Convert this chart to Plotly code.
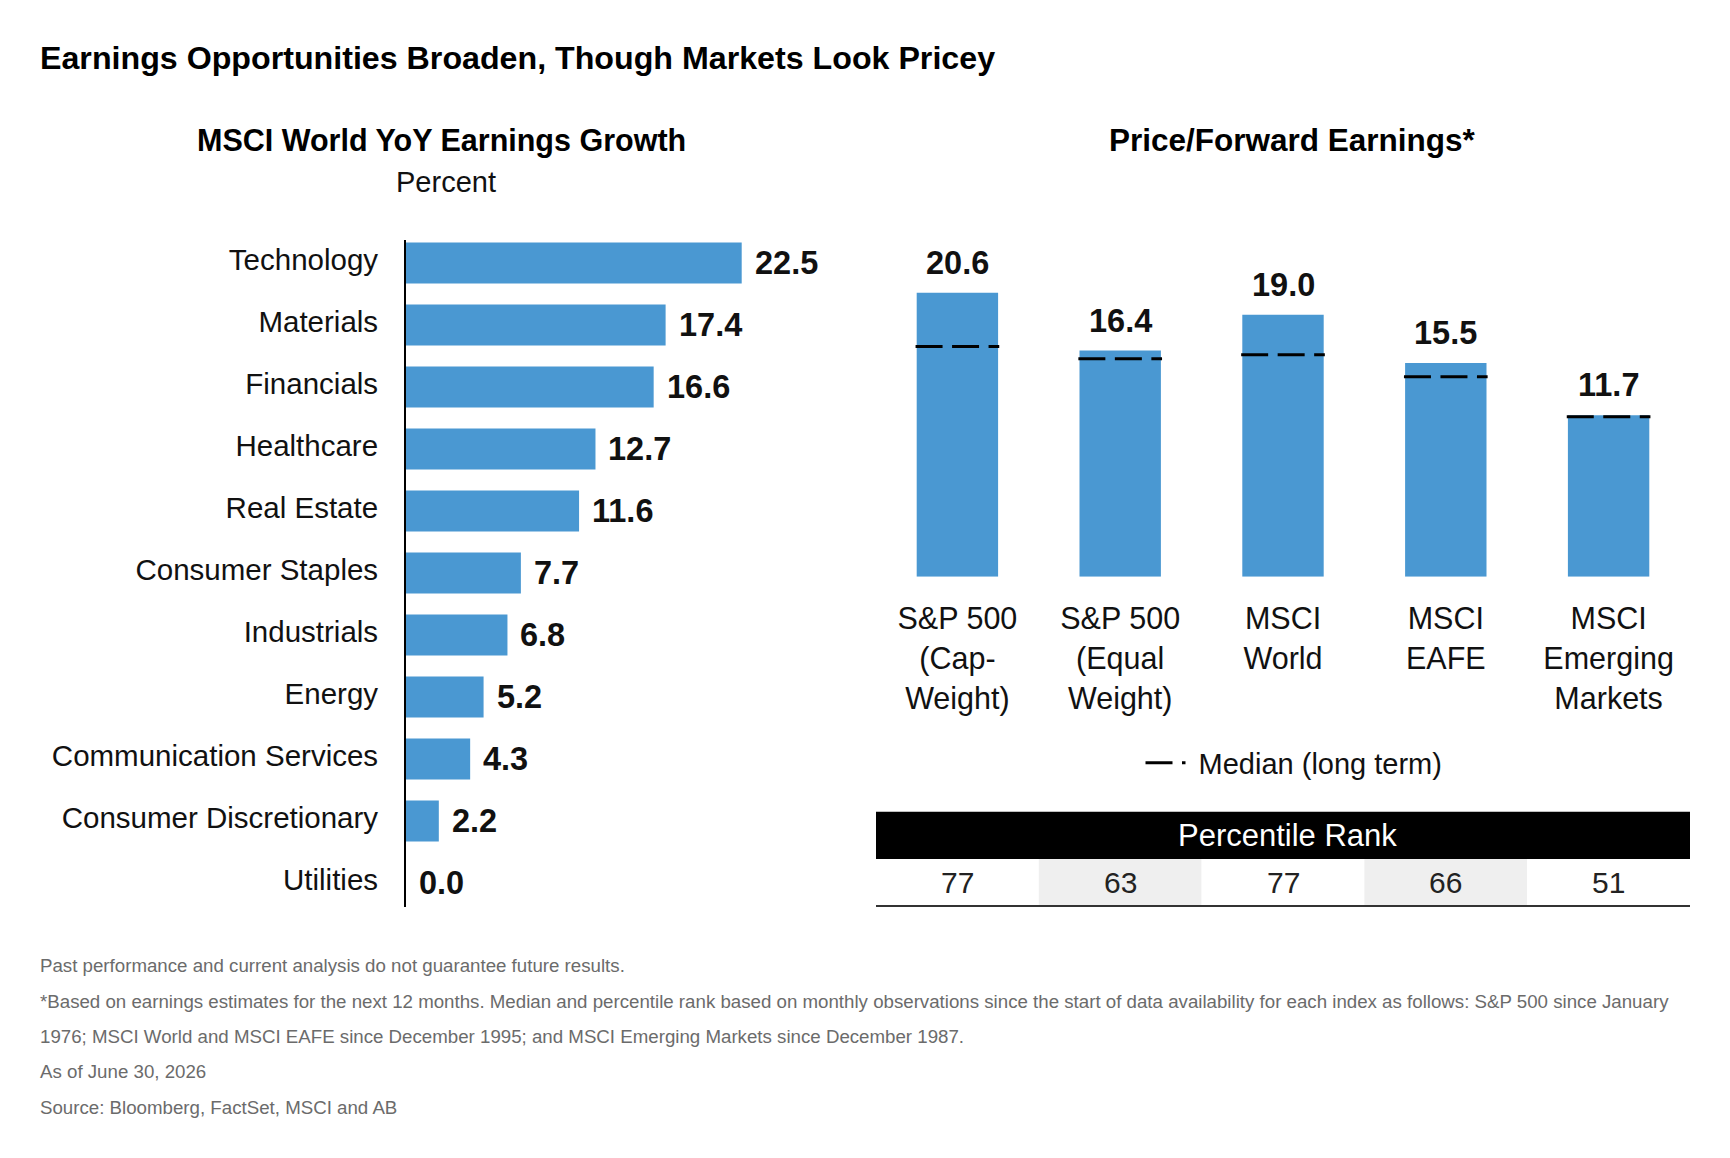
import plotly.graph_objects as go

W, H = 1730, 1158
FONT = "Liberation Sans, Arial, Helvetica, sans-serif"
BLUE = "#4a98d2"

# ---------------- data ----------------
sectors = ["Technology", "Materials", "Financials", "Healthcare", "Real Estate",
           "Consumer Staples", "Industrials", "Energy", "Communication Services",
           "Consumer Discretionary", "Utilities"]
growth = [22.5, 17.4, 16.6, 12.7, 11.6, 7.7, 6.8, 5.2, 4.3, 2.2, 0.0]

indices = ["S&P 500<br>(Cap-<br>Weight)", "S&P 500<br>(Equal<br>Weight)", "MSCI<br>World",
           "MSCI<br>EAFE", "MSCI<br>Emerging<br>Markets"]
pe_ratio = [20.6, 16.4, 19.0, 15.5, 11.7]
pe_median = [16.7, 15.8, 16.1, 14.5, 11.6]
pct_rank = [77, 63, 77, 66, 51]

title = "Earnings Opportunities Broaden, Though Markets Look Pricey"
left_title = "MSCI World YoY Earnings Growth"
left_unit = "Percent"
right_title = "Price/Forward Earnings*"
median_name = "Median (long term)"
table_header = "Percentile Rank"
footer = [
    "Past performance and current analysis do not guarantee future results.",
    "*Based on earnings estimates for the next 12 months. Median and percentile rank based on monthly observations since the start of data availability for each index as follows: S&P 500 since January",
    "1976; MSCI World and MSCI EAFE since December 1995; and MSCI Emerging Markets since December 1987.",
    "As of June 30, 2026",
    "Source: Bloomberg, FactSet, MSCI and AB",
]


def px_x(v):
    return v / W


def px_y(v):
    return 1 - v / H


fig = go.Figure()

# left: horizontal bars
fig.add_trace(go.Bar(
    x=growth, y=sectors, orientation="h", width=0.66,
    marker=dict(color=BLUE, line=dict(width=0)),
    xaxis="x", yaxis="y", showlegend=False, hoverinfo="skip",
))

# right: P/E bars
idx_pos = list(range(len(indices)))
fig.add_trace(go.Bar(
    x=idx_pos, y=pe_ratio, width=0.5,
    marker=dict(color=BLUE, line=dict(width=0)),
    xaxis="x2", yaxis="y2", showlegend=False, hoverinfo="skip",
))

# medians
mx, my = [], []
for i, m in enumerate(pe_median):
    mx += [i - 0.257, i + 0.257, None]
    my += [m, m, None]
fig.add_trace(go.Scatter(
    x=mx, y=my, mode="lines", name="\u00a0" + median_name,
    line=dict(color="black", width=3, dash="27px,9.5px"),
    xaxis="x2", yaxis="y2", showlegend=True, hoverinfo="skip", connectgaps=False,
))

annotations = []
# left value labels
for s, v in zip(sectors, growth):
    annotations.append(dict(
        x=v, y=s, xref="x", yref="y", text=f"<b>{v:.1f}</b>", showarrow=False,
        xanchor="left", yanchor="middle", xshift=11, yshift=0,
        font=dict(family=FONT, size=32.5, color="#111111")))
# right value labels
for i, v in enumerate(pe_ratio):
    annotations.append(dict(
        x=i, y=v, xref="x2", yref="y2", text=f"<b>{v:.1f}</b>", showarrow=False,
        xanchor="center", yanchor="middle", yshift=30,
        font=dict(family=FONT, size=32.5, color="#111111")))

# titles
annotations += [
    dict(x=px_x(38), y=px_y(58), xref="paper", yref="paper", text=f"<b>{title}</b>",
         showarrow=False, xanchor="left", yanchor="middle",
         font=dict(family=FONT, size=32.2, color="#000000")),
    dict(x=px_x(442), y=px_y(140), xref="paper", yref="paper", text=f"<b>{left_title}</b>",
         showarrow=False, xanchor="center", yanchor="middle",
         font=dict(family=FONT, size=30.5, color="#000000")),
    dict(x=px_x(446), y=px_y(182), xref="paper", yref="paper", text=left_unit,
         showarrow=False, xanchor="center", yanchor="middle",
         font=dict(family=FONT, size=29, color="#111111")),
    dict(x=px_x(1292), y=px_y(140), xref="paper", yref="paper", text=f"<b>{right_title}</b>",
         showarrow=False, xanchor="center", yanchor="middle",
         font=dict(family=FONT, size=31.5, color="#000000")),
]

# table
shapes = []
hdr_top, hdr_bot, row_bot = 811.7, 859, 906
shapes.append(dict(type="rect", xref="x2", yref="paper", x0=-0.5, x1=len(indices) - 0.5,
                   y0=px_y(hdr_bot), y1=px_y(hdr_top), fillcolor="#000000", line=dict(width=0),
                   layer="above"))
for i in idx_pos:
    shapes.append(dict(type="rect", xref="x2", yref="paper", x0=i - 0.5, x1=i + 0.5,
                       y0=px_y(row_bot), y1=px_y(hdr_bot),
                       fillcolor="#efefef" if i % 2 == 1 else "#ffffff",
                       line=dict(width=0), layer="above"))
shapes.append(dict(type="line", xref="x2", yref="paper", x0=-0.5, x1=len(indices) - 0.5,
                   y0=px_y(row_bot), y1=px_y(row_bot), line=dict(color="#333333", width=2),
                   layer="above"))
annotations.append(dict(x=(len(indices) - 1) / 2, y=px_y(835), xref="x2", yref="paper",
                        text=table_header, showarrow=False, xanchor="center", yanchor="middle",
                        xshift=4, font=dict(family=FONT, size=31, color="#ffffff")))
for i, r in enumerate(pct_rank):
    annotations.append(dict(x=i, y=px_y(882), xref="x2", yref="paper", text=str(r),
                            showarrow=False, xanchor="center", yanchor="middle",
                            font=dict(family=FONT, size=30, color="#222222")))

# footer
for k, (line, yc) in enumerate(zip(footer, [965, 1001, 1036, 1071.5, 1107])):
    annotations.append(dict(x=px_x(38), y=px_y(yc), xref="paper", yref="paper", text=line,
                            showarrow=False, xanchor="left", yanchor="middle",
                            font=dict(family=FONT, size=18.7, color="#6b6b6b")))

fig.update_layout(
    width=W, height=H,
    margin=dict(l=0, r=0, t=0, b=0),
    paper_bgcolor="white", plot_bgcolor="white",
    font=dict(family=FONT, color="#111111"),
    barmode="overlay",
    xaxis=dict(domain=[px_x(406), px_x(779)], range=[0, 25], showgrid=False, zeroline=False,
               showticklabels=False, showline=False, anchor="y", fixedrange=True),
    yaxis=dict(domain=[px_y(906.5), px_y(239.5)], range=[10.38, -0.38], autorange=False,
               categoryorder="array", categoryarray=sectors, type="category",
               showgrid=False, zeroline=False, showline=True, linecolor="#000000", linewidth=2,
               ticks="", ticklabelstandoff=20, ticklabelshift=3,
               tickfont=dict(family=FONT, size=29.5, color="#111111"),
               anchor="x", fixedrange=True),
    xaxis2=dict(domain=[px_x(876), px_x(1690)], range=[-0.5, 4.5], tickmode="array",
                tickvals=idx_pos, ticktext=indices, showgrid=False, zeroline=False,
                showline=False, ticks="", ticklabelstandoff=21,
                tickfont=dict(family=FONT, size=30.5, color="#111111"), anchor="y2", fixedrange=True),
    yaxis2=dict(domain=[px_y(576.7), px_y(576.7 - 24 * 13.79)], range=[0, 24], visible=False,
                showgrid=False, zeroline=False, anchor="x2", fixedrange=True),
    legend=dict(x=px_x(1294), y=px_y(763), xanchor="center", yanchor="middle",
                orientation="h", bgcolor="rgba(0,0,0,0)", itemwidth=40,
                font=dict(family=FONT, size=29, color="#111111")),
    annotations=annotations,
    shapes=shapes,
)

fig.write_html("out.html")
